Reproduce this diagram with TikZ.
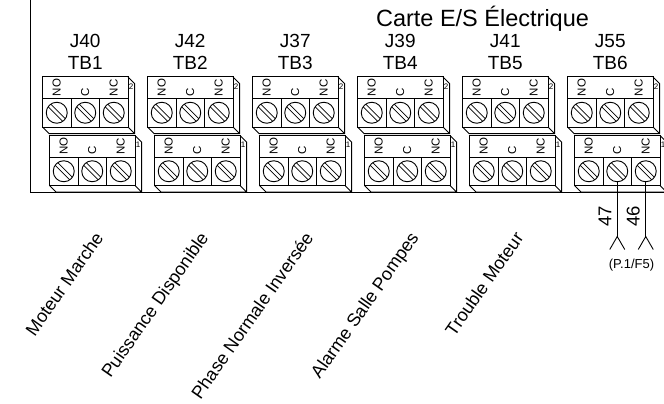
\documentclass[tikz,border=0pt]{standalone}
\usepackage{fontspec}
\setmainfont{Liberation Sans}
\usetikzlibrary{calc}
\begin{document}
\begin{tikzpicture}[x=1pt,y=-1pt,line width=1pt,
  lbl/.style={font=\fontsize{19}{21}\selectfont,inner sep=0pt},
  titlelbl/.style={font=\fontsize{23.5}{26}\selectfont,inner sep=0pt},
  rotlbl/.style={font=\fontsize{18}{20}\selectfont,inner sep=0pt,rotate=55,anchor=base east},
  pinlbl/.style={font=\fontsize{11.5}{12}\selectfont,inner sep=0pt,rotate=90,anchor=west},
  numlbl/.style={font=\fontsize{8}{9}\selectfont,inner sep=0pt},
  wlbl/.style={font=\fontsize{18.5}{20}\selectfont,inner sep=0pt,rotate=90,anchor=south},
  reflbl/.style={font=\fontsize{13}{14}\selectfont,inner sep=0pt},
  screw/.style={draw,circle,minimum size=21pt,inner sep=0pt,line width=0.9pt},
  slot/.style={line width=0.75pt},
  wire/.style={line width=0.9pt}]
\useasboundingbox (0,0) rectangle (664,404);
% board
\draw (30.5,-3) -- (30.5,192) -- (668,192);
\node[titlelbl,anchor=base] (title) at (482.5,27) {Carte E/S Électrique};
% terminal blocks
\foreach \k/\jl/\tb in {0/J40/TB1,1/J42/TB2,2/J37/TB3,3/J39/TB4,4/J41/TB5,5/J55/TB6}{
  \pgfmathsetmacro\cx{85.25+105*\k}
  \node[lbl,anchor=base] (j\k) at (\cx,48) {\jl};
  \node[lbl,anchor=base] (tb\k) at (\cx,70) {\tb};
  \foreach \u/\dx/\dy/\num in {0/-42.75/77/2,1/-35.75/135.5/1}{
    \pgfmathsetmacro\xa{\cx+\dx}
    \begin{scope}[shift={(\xa,\dy)}]
      \draw (0,0) rectangle (85.5,50);
      \draw (0,21.5) -- (85.5,21.5) (28.5,21.5) -- (28.5,50) (57,21.5) -- (57,50);
      \draw (85.5,0) -- (92,6.5) -- (92,56.5) -- (6.5,56.5) -- (0,50) (85.5,50) -- (92,56.5);
      \node[numlbl] (n\k\u) at (88.7,9.5) {\num};
      \foreach \c/\t in {0/NO,1/C,2/NC}{
        \pgfmathsetmacro\sx{14.25+28.5*\c}
        \node[pinlbl] (p\k\u\c) at (\sx,19.5) {\t};
        \node[screw] (s\k\u\c) at (\sx,35.75) {};
        \draw[slot] (\sx+1.27-7.31,35.75-1.27-7.31) -- ++(14.62,14.62);
        \draw[slot] (\sx-1.27-7.31,35.75+1.27-7.31) -- ++(14.62,14.62);
      }
    \end{scope}
  }
}
% rotated signal labels
\foreach \k/\t in {0/Moteur Marche,1/Puissance Disponible,2/Phase Normale Inversée,3/Alarme Salle Pompes,4/Trouble Moteur}{
  \node[rotlbl] (r\k) at ({104.5+105*\k},237.5) {\t};
}
% wires from TB6
\path (s511.center) ++(0,65.25) coordinate (f47);
\path (s512.center) ++(0,65.25) coordinate (f46);
\path (f47) ++(-7.5,13) coordinate (f47l) (f47) ++(7.5,13) coordinate (f47r);
\path (f46) ++(-7.5,13) coordinate (f46l) (f46) ++(7.5,13) coordinate (f46r);
\draw[wire] (s511.south) -- (f47);
\draw[wire] (s512.south) -- (f46);
\draw[wire] (f47l) -- (f47) -- (f47r);
\draw[wire] (f46l) -- (f46) -- (f46r);
\path (s511.center) ++(-5.5,45.25) node[wlbl] (w47) {47};
\path (s512.center) ++(-5.5,45.25) node[wlbl] (w46) {46};
\node[reflbl] (ref) at ($(f47)!0.5!(f46)+(0,28.5)$) {(P.1/F5)};
\end{tikzpicture}
\end{document}
